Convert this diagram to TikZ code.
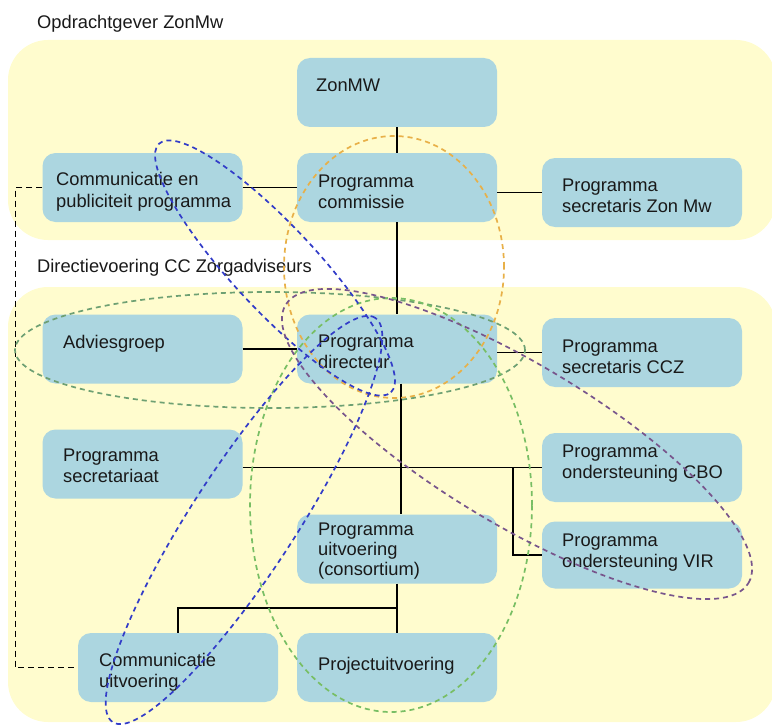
\documentclass[tikz,border=0pt]{standalone}
\usepackage{fontspec}
\setmainfont{Liberation Sans}
\definecolor{bandyellow}{RGB}{255,252,206}
\definecolor{boxblue}{RGB}{172,214,224}
\definecolor{elorange}{RGB}{232,176,72}
\definecolor{elgreen}{RGB}{120,190,100}
\definecolor{elgreenh}{RGB}{110,160,115}
\definecolor{elblue}{RGB}{50,60,200}
\definecolor{elpurple}{RGB}{120,85,140}
\definecolor{txtcol}{RGB}{25,25,25}
\tikzset{
  box/.style={draw=none, fill=boxblue, rounded corners=13pt, minimum width=200pt, minimum height=69pt, inner sep=0pt},
  lbl/.style={anchor=base west, align=left, inner sep=0pt, text=txtcol, font=\fontsize{18.3}{21}\selectfont},
  conn/.style={draw=black, line width=1.4pt},
  dconn/.style={draw=black, line width=1.4pt, dash pattern=on 6pt off 4pt},
  grp/.style={line width=1.7pt, dash pattern=on 5pt off 4pt},
}
\begin{document}
\begin{tikzpicture}[x=1pt,y=1pt]
\useasboundingbox (0,0) rectangle (772,-725);
% bands
\fill[bandyellow, rounded corners=40pt] (8,-40) rectangle (776,-240);
\fill[bandyellow, rounded corners=40pt] (8,-287) rectangle (776,-722);
\node[lbl] (hdrA) at (37,-29) {Opdrachtgever ZonMw};
\node[lbl] (hdrB) at (37,-272) {Directievoering CC Zorgadviseurs};
% boxes
\node[box] (zonmw) at (397,-92.5) {};
\node[box] (commpub) at (142.5,-187.5) {};
\node[box] (commissie) at (397,-187.5) {};
\node[box] (seczon) at (642,-192.5) {};
\node[box] (advies) at (142.5,-349) {};
\node[box] (directeur) at (397,-349) {};
\node[box] (secccz) at (642,-352.5) {};
\node[box] (secretariaat) at (142.5,-464) {};
\node[box] (cbo) at (642,-467.5) {};
\node[box] (uitvoering) at (397,-549) {};
\node[box, minimum height=67pt] (vir) at (642,-555) {};
\node[box] (commuit) at (178,-667.5) {};
\node[box] (project) at (397,-667.5) {};
% connectors
\draw[conn] (zonmw.south) -- (commissie.north);
\draw[conn] (commissie.south) -- (directeur.north);
\draw[conn] (commpub.east) -- (commissie.west);
\draw[conn] (commissie.east |- seczon.west) -- (seczon.west);
\draw[conn] (advies.east) -- (directeur.west);
\draw[conn] (directeur.east |- secccz.west) -- (secccz.west);
\draw[conn] ([xshift=4pt]directeur.south) -- ([xshift=4pt]uitvoering.north);
\draw[conn] (secretariaat.east |- cbo.west) -- (cbo.west);
\coordinate (br) at (513,-467.5);
\draw[conn] (br) |- (vir.west);
\draw[conn] (uitvoering.south) -- (project.north);
\coordinate (jn) at (397,-608);
\draw[conn] (jn) -| (commuit.north);
\draw[dconn] (commpub.west) -- ++(-27,0) |- (commuit.west);
% texts (anchor = baseline of the last line)
\node[lbl] (zonmwT) at (316,-92) {ZonMW};
\node[lbl] (commpubT) at (56,-207) {Communicatie en\\publiciteit programma};
\node[lbl] (commissieT) at (318,-208) {Programma\\commissie};
\node[lbl] (seczonT) at (562,-212) {Programma\\secretaris Zon Mw};
\node[lbl] (adviesT) at (63,-348) {Adviesgroep};
\node[lbl] (directeurT) at (318,-368) {Programma\\directeur};
\node[lbl] (seccczT) at (562,-373) {Programma\\secretaris CCZ};
\node[lbl] (secretariaatT) at (63,-482) {Programma\\secretariaat};
\node[lbl] (cboT) at (562,-478) {Programma\\ondersteuning CBO};
\node[lbl, font=\fontsize{18.3}{20}\selectfont] (uitvoeringT) at (318,-575) {Programma\\uitvoering\\(consortium)};
\node[lbl] (virT) at (562,-567) {Programma\\ondersteuning VIR};
\node[lbl] (commuitT) at (99,-687) {Communicatie\\uitvoering};
\node[lbl] (projectT) at (318,-670) {Projectuitvoering};
% group ellipses
\draw[grp, elorange] (394,-267) ellipse (110 and 131);
\draw[grp, elgreenh] (270,-350) ellipse (255 and 58);
\draw[grp, elgreen] (391,-505) ellipse (141 and 207);
\draw[grp, elblue, rotate around={-47:(275,-268)}] (275,-268) ellipse (170 and 42);
\draw[grp, elblue, rotate around={57:(244,-520)}] (244,-520) ellipse (241 and 52);
\draw[grp, elpurple, rotate around={-31:(517,-444)}] (517,-444) ellipse (270 and 80);
\end{tikzpicture}
\end{document}
